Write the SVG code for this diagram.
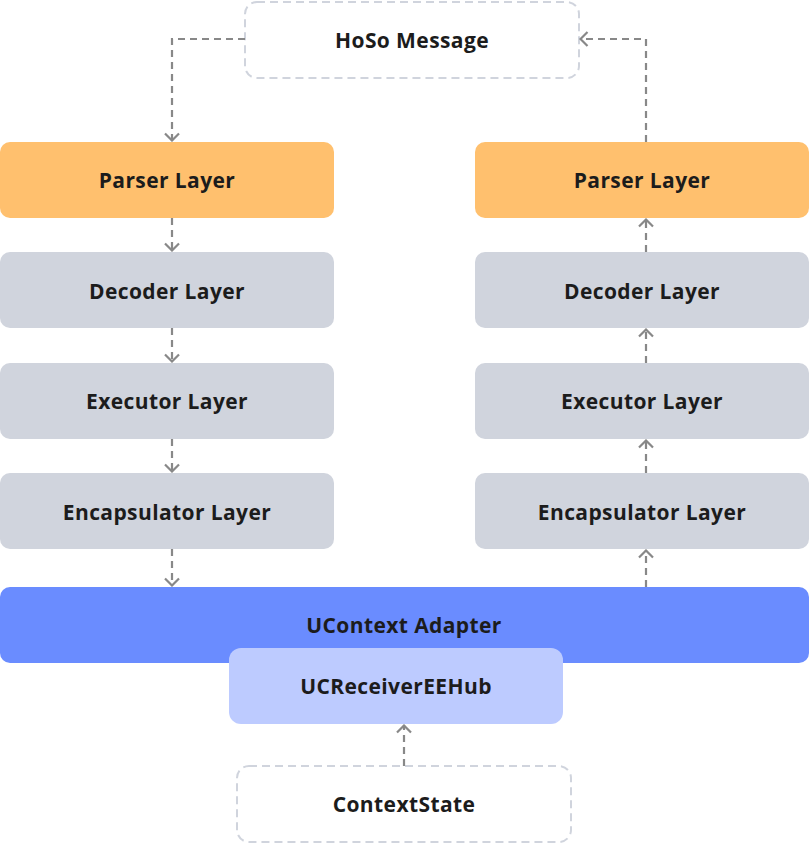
<svg xmlns="http://www.w3.org/2000/svg" width="809" height="844" viewBox="0 0 809 844">
<defs>
<style>
.t{font-family:"Open Sans","Noto Sans","DejaVu Sans",sans-serif;font-weight:700;font-size:21px;letter-spacing:0.4px;fill:#1c1c1c;text-anchor:middle;dominant-baseline:central}
.parser{fill:#ffc06e}
.layer{fill:#d0d4dd}
.ext{fill:#ffffff;stroke:#d0d4dd;stroke-width:2;stroke-dasharray:8 5}
.c{fill:none;stroke:#888888;stroke-width:2.2;stroke-dasharray:7 5;marker-end:url(#ah)}
</style>
<marker id="ah" viewBox="0 0 10 16" refX="9" refY="8" markerWidth="10" markerHeight="16" markerUnits="userSpaceOnUse" orient="auto">
<path d="M1.5 1 L8.5 8 L1.5 15" fill="none" stroke="#888888" stroke-width="2.2"/>
</marker>
</defs>
<rect width="809" height="844" fill="#ffffff"/>
<g id="hoso"><rect class="ext" x="245" y="2" width="334" height="76" rx="12"/><text class="t" x="412" y="40">HoSo Message</text></g>
<g id="parser-l"><rect class="parser" x="0" y="142" width="334" height="76" rx="10"/><text class="t" x="167" y="180">Parser Layer</text></g>
<g id="decoder-l"><rect class="layer" x="0" y="252" width="334" height="76" rx="10"/><text class="t" x="167" y="291">Decoder Layer</text></g>
<g id="executor-l"><rect class="layer" x="0" y="363" width="334" height="76" rx="10"/><text class="t" x="167" y="401">Executor Layer</text></g>
<g id="encap-l"><rect class="layer" x="0" y="473" width="334" height="76" rx="10"/><text class="t" x="167" y="512">Encapsulator Layer</text></g>
<g id="parser-r"><rect class="parser" x="475" y="142" width="334" height="76" rx="10"/><text class="t" x="642" y="180">Parser Layer</text></g>
<g id="decoder-r"><rect class="layer" x="475" y="252" width="334" height="76" rx="10"/><text class="t" x="642" y="291">Decoder Layer</text></g>
<g id="executor-r"><rect class="layer" x="475" y="363" width="334" height="76" rx="10"/><text class="t" x="642" y="401">Executor Layer</text></g>
<g id="encap-r"><rect class="layer" x="475" y="473" width="334" height="76" rx="10"/><text class="t" x="642" y="512">Encapsulator Layer</text></g>
<g id="ucontext"><rect x="0" y="587" width="809" height="76" rx="10" fill="#6a8cff"/><text class="t" x="404" y="625">UContext Adapter</text></g>
<g id="hub"><rect x="229" y="648" width="334" height="76" rx="12" fill="#bdcbff"/><text class="t" x="396" y="686">UCReceiverEEHub</text></g>
<g id="contextstate"><rect class="ext" x="237" y="766" width="334" height="76" rx="12"/><text class="t" x="404" y="804">ContextState</text></g>
<g id="connectors">
<path class="c" d="M245 39 H172 V141"/>
<path class="c" d="M172 218 V251"/>
<path class="c" d="M172 328 V362"/>
<path class="c" d="M172 439 V472"/>
<path class="c" d="M172 549 V586"/>
<path class="c" d="M646 587 V550"/>
<path class="c" d="M646 473 V440"/>
<path class="c" d="M646 363 V329"/>
<path class="c" d="M646 252 V219"/>
<path class="c" d="M646 142 V39 H580"/>
<path class="c" d="M404 766 V725"/>
</g>
</svg>
